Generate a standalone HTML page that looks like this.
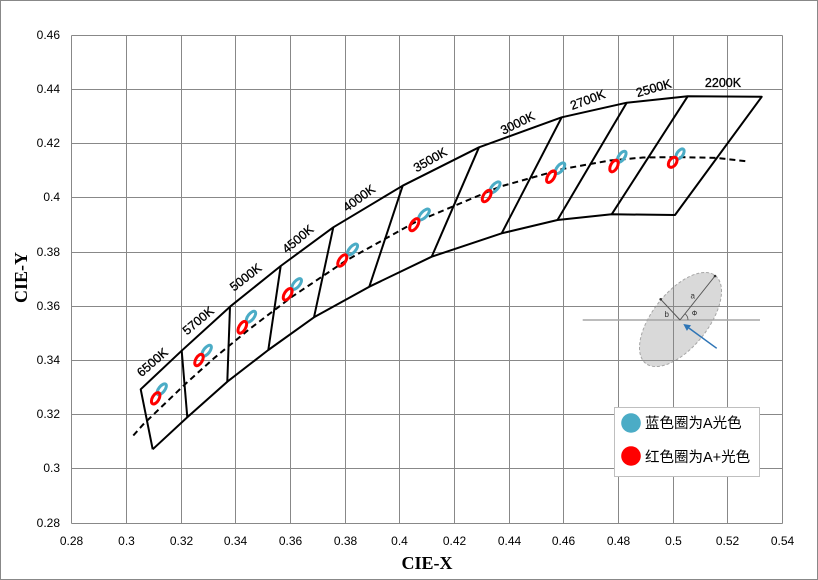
<!DOCTYPE html>
<html><head><meta charset="utf-8"><style>
html,body{margin:0;padding:0;background:#fff;}
svg{display:block;}
.tk{font-family:"Liberation Sans",Arial,sans-serif;font-size:12px;fill:#000;}
.cct{font-family:"Liberation Sans",Arial,sans-serif;font-size:12.5px;fill:#000;stroke:#000;stroke-width:0.3;}
.lg{font-family:"Liberation Sans","Noto Sans CJK SC",sans-serif;font-size:14.5px;fill:#000;}
.ax{font-family:"Liberation Serif","Times New Roman",serif;font-size:18px;font-weight:bold;fill:#000;}
</style></head><body>
<svg width="818" height="580" viewBox="0 0 818 580" xmlns="http://www.w3.org/2000/svg">
<rect x="0.5" y="0.5" width="817" height="579" fill="#fff" stroke="#888" stroke-width="1"/>

<!-- inset ellipse (behind grid) -->
<ellipse cx="680.5" cy="319.5" rx="56" ry="27.6" transform="rotate(-51.5 680.5 319.5)" fill="#d9d9d9" stroke="#a6a6a6" stroke-width="1" stroke-dasharray="3 2"/>

<!-- grid -->
<g stroke="#888" stroke-width="1" fill="none" shape-rendering="crispEdges">
<line x1="71.5" y1="35.5" x2="782.5" y2="35.5"/>
<line x1="71.5" y1="89.5" x2="782.5" y2="89.5"/>
<line x1="71.5" y1="143.5" x2="782.5" y2="143.5"/>
<line x1="71.5" y1="197.5" x2="782.5" y2="197.5"/>
<line x1="71.5" y1="252.5" x2="782.5" y2="252.5"/>
<line x1="71.5" y1="306.5" x2="782.5" y2="306.5"/>
<line x1="71.5" y1="360.5" x2="782.5" y2="360.5"/>
<line x1="71.5" y1="414.5" x2="782.5" y2="414.5"/>
<line x1="71.5" y1="468.5" x2="782.5" y2="468.5"/>
<line x1="71.5" y1="523.5" x2="782.5" y2="523.5"/>
<line x1="71.5" y1="35.5" x2="71.5" y2="523.5"/>
<line x1="126.5" y1="35.5" x2="126.5" y2="523.5"/>
<line x1="181.5" y1="35.5" x2="181.5" y2="523.5"/>
<line x1="235.5" y1="35.5" x2="235.5" y2="523.5"/>
<line x1="290.5" y1="35.5" x2="290.5" y2="523.5"/>
<line x1="345.5" y1="35.5" x2="345.5" y2="523.5"/>
<line x1="399.5" y1="35.5" x2="399.5" y2="523.5"/>
<line x1="454.5" y1="35.5" x2="454.5" y2="523.5"/>
<line x1="509.5" y1="35.5" x2="509.5" y2="523.5"/>
<line x1="563.5" y1="35.5" x2="563.5" y2="523.5"/>
<line x1="618.5" y1="35.5" x2="618.5" y2="523.5"/>
<line x1="673.5" y1="35.5" x2="673.5" y2="523.5"/>
<line x1="727.5" y1="35.5" x2="727.5" y2="523.5"/>
<line x1="782.5" y1="35.5" x2="782.5" y2="523.5"/>
</g>

<!-- tick labels Y -->
<g class="tk" text-anchor="end" dominant-baseline="central">
<text x="60" y="35">0.46</text>
<text x="60" y="89">0.44</text>
<text x="60" y="143">0.42</text>
<text x="60" y="197">0.4</text>
<text x="60" y="252">0.38</text>
<text x="60" y="306">0.36</text>
<text x="60" y="360">0.34</text>
<text x="60" y="414">0.32</text>
<text x="60" y="468">0.3</text>
<text x="60" y="523">0.28</text>
</g>
<!-- tick labels X -->
<g class="tk" text-anchor="middle" dominant-baseline="central">
<text x="71.5" y="541">0.28</text>
<text x="126.5" y="541">0.3</text>
<text x="181.5" y="541">0.32</text>
<text x="235.5" y="541">0.34</text>
<text x="290.5" y="541">0.36</text>
<text x="345.5" y="541">0.38</text>
<text x="399.5" y="541">0.4</text>
<text x="454.5" y="541">0.42</text>
<text x="509.5" y="541">0.44</text>
<text x="563.5" y="541">0.46</text>
<text x="618.5" y="541">0.48</text>
<text x="673.5" y="541">0.5</text>
<text x="727.5" y="541">0.52</text>
<text x="782.5" y="541">0.54</text>
</g>

<text class="ax" x="427" y="569" text-anchor="middle">CIE-X</text>
<text class="ax" x="27" y="277.5" text-anchor="middle" transform="rotate(-90 27 277.5)">CIE-Y</text>

<!-- quadrangles -->
<g stroke="#000" stroke-width="2" fill="none" stroke-linejoin="round">
<polyline points="152.7,449.3 140.7,389.3 181.7,350.7 230,306.7 280.7,266 333.3,227.3 402.7,185.7 479,147.3 561.7,117.3 626.7,102.7 687.7,96.3 761.7,96.8 675,215 611.7,214.3 557.5,220 501.7,233.3 431.7,256.7 369.3,286.7 314,317.3 268.3,350 227.3,381.7 187.3,417.3 152.7,449.3"/>
<line x1="181.7" y1="350.7" x2="187.3" y2="417.3"/>
<line x1="230" y1="306.7" x2="227.3" y2="381.7"/>
<line x1="280.7" y1="266" x2="268.3" y2="350"/>
<line x1="333.3" y1="227.3" x2="314" y2="317.3"/>
<line x1="402.7" y1="185.7" x2="369.3" y2="286.7"/>
<line x1="479" y1="147.3" x2="431.7" y2="256.7"/>
<line x1="561.7" y1="117.3" x2="501.7" y2="233.3"/>
<line x1="626.7" y1="102.7" x2="557.5" y2="220"/>
<line x1="687.7" y1="96.3" x2="611.7" y2="214.3"/>
</g>

<!-- Planckian locus dashed -->
<polyline points="133.3,435.5 143.5,424.1 162.9,405.5 186.4,383 214.5,357.8 249.3,329.2 292.2,296.6 346,260.6 413.8,222.9 500.2,186.6 563.1,168.9 609.8,160.5 643,157.5 678.1,157.1 716.7,157.9 746.7,161.3" fill="none" stroke="#000" stroke-width="2" stroke-dasharray="6 4"/>

<!-- blue ellipses -->
<g fill="none" stroke="#4bacc6" stroke-width="3">
<ellipse cx="161.7" cy="389.3" rx="6.5" ry="3" transform="rotate(-52 161.7 389.3)"/>
<ellipse cx="206.7" cy="350.7" rx="6.5" ry="3" transform="rotate(-52 206.7 350.7)"/>
<ellipse cx="251" cy="316.7" rx="6.5" ry="3" transform="rotate(-52 251 316.7)"/>
<ellipse cx="296.7" cy="284" rx="6.5" ry="3" transform="rotate(-50 296.7 284)"/>
<ellipse cx="352.5" cy="249.5" rx="6.8" ry="3" transform="rotate(-48 352.5 249.5)"/>
<ellipse cx="424" cy="214.5" rx="7" ry="3" transform="rotate(-46 424 214.5)"/>
<ellipse cx="495" cy="187.3" rx="6.8" ry="3" transform="rotate(-48 495 187.3)"/>
<ellipse cx="560" cy="168.3" rx="6.5" ry="3" transform="rotate(-50 560 168.3)"/>
<ellipse cx="621.7" cy="156.7" rx="6.3" ry="3" transform="rotate(-55 621.7 156.7)"/>
<ellipse cx="680" cy="154" rx="5.8" ry="3" transform="rotate(-55 680 154)"/>
</g>
<!-- red ellipses -->
<g fill="none" stroke="#ff0000" stroke-width="3">
<ellipse cx="155.7" cy="398.3" rx="6.3" ry="3.3" transform="rotate(-60 155.7 398.3)"/>
<ellipse cx="199" cy="360" rx="6.3" ry="3.3" transform="rotate(-60 199 360)"/>
<ellipse cx="242.3" cy="327.3" rx="6.5" ry="3.3" transform="rotate(-60 242.3 327.3)"/>
<ellipse cx="287.7" cy="294.3" rx="6.5" ry="3.3" transform="rotate(-58 287.7 294.3)"/>
<ellipse cx="342.3" cy="260.5" rx="6.5" ry="3.3" transform="rotate(-56 342.3 260.5)"/>
<ellipse cx="414.3" cy="224.7" rx="6.8" ry="3.4" transform="rotate(-58 414.3 224.7)"/>
<ellipse cx="486.7" cy="196" rx="6.5" ry="3.3" transform="rotate(-58 486.7 196)"/>
<ellipse cx="551" cy="176.7" rx="6.5" ry="3.3" transform="rotate(-58 551 176.7)"/>
<ellipse cx="614" cy="166" rx="6.3" ry="3.4" transform="rotate(-62 614 166)"/>
<ellipse cx="672.7" cy="162.3" rx="5.6" ry="3.6" transform="rotate(-55 672.7 162.3)"/>
</g>

<!-- CCT labels -->
<g class="cct" text-anchor="middle" dominant-baseline="central">
<text x="152.5" y="362.5" transform="rotate(-41 152.5 362.5)">6500K</text>
<text x="198.3" y="320.8" transform="rotate(-40 198.3 320.8)">5700K</text>
<text x="245.8" y="277.5" transform="rotate(-38 245.8 277.5)">5000K</text>
<text x="298" y="239.2" transform="rotate(-40 298 239.2)">4500K</text>
<text x="359.2" y="198.3" transform="rotate(-36 359.2 198.3)">4000K</text>
<text x="430.3" y="160" transform="rotate(-30 430.3 160)">3500K</text>
<text x="517.8" y="123.3" transform="rotate(-26 517.8 123.3)">3000K</text>
<text x="587.7" y="100" transform="rotate(-20 587.7 100)">2700K</text>
<text x="653.8" y="88.3" transform="rotate(-16 653.8 88.3)">2500K</text>
<text x="723" y="83">2200K</text>
</g>

<!-- inset diagram overlay -->
<g>
<line x1="582.7" y1="320" x2="760" y2="320" stroke="#a6a6a6" stroke-width="1.5"/>
<line x1="680" y1="320" x2="715" y2="276" stroke="#555" stroke-width="1"/>
<line x1="680" y1="320" x2="660.7" y2="299.3" stroke="#555" stroke-width="1"/>
<circle cx="715" cy="276" r="1.3" fill="#333"/>
<circle cx="660.7" cy="299.3" r="1.3" fill="#333"/>
<path d="M688,320 A8,8 0 0,0 685,313.7" fill="none" stroke="#555" stroke-width="0.8"/>
<text x="692.7" y="296" font-family="Liberation Sans,sans-serif" font-size="8" fill="#333" text-anchor="middle" dominant-baseline="central">a</text>
<text x="666.7" y="314.3" font-family="Liberation Sans,sans-serif" font-size="8" fill="#333" text-anchor="middle" dominant-baseline="central">b</text>
<text x="694.5" y="313.3" font-family="DejaVu Sans,sans-serif" font-size="7" fill="#333" text-anchor="middle" dominant-baseline="central">Φ</text>
<line x1="716.7" y1="348.3" x2="689" y2="328.1" stroke="#2e75b6" stroke-width="1.5"/>
<polygon points="683.3,324 691,325.3 686.9,330.9" fill="#2e75b6"/>
</g>

<!-- legend -->
<rect x="614.5" y="407.5" width="145" height="69" fill="#fff" stroke="#bfbfbf" stroke-width="1"/>
<circle cx="631" cy="423" r="9.8" fill="#4bacc6"/>
<circle cx="631" cy="456" r="9.8" fill="#ff0000"/>
<text class="lg" x="645" y="428">蓝色圈为A光色</text>
<text class="lg" x="645" y="462">红色圈为A+光色</text>
</svg>
</body></html>
